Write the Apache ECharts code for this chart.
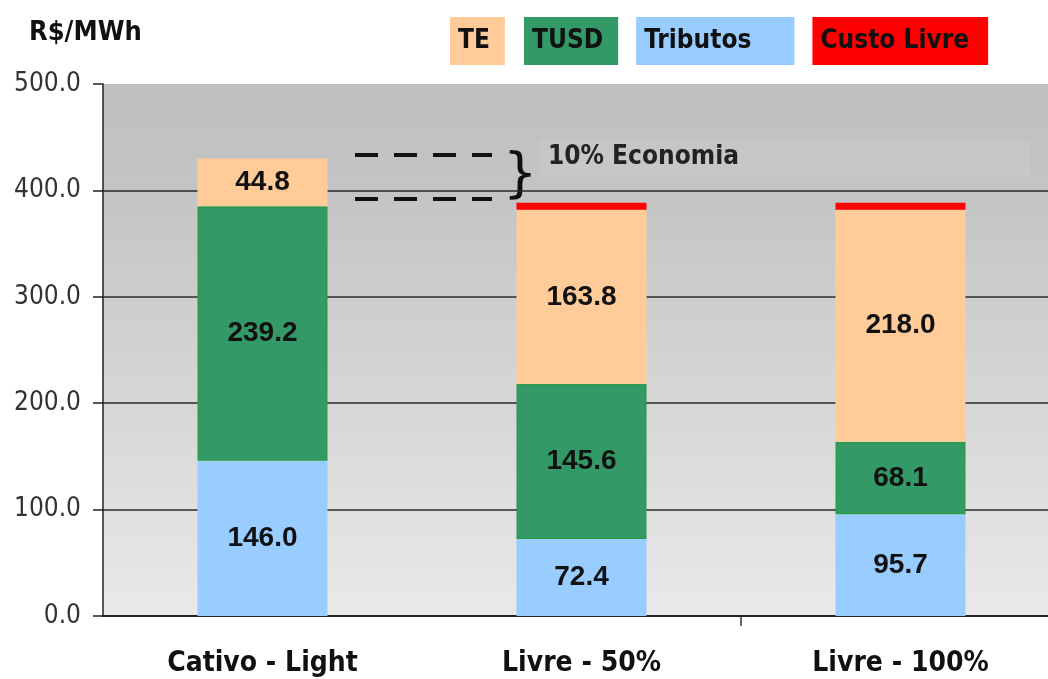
<!DOCTYPE html>
<html>
<head>
<meta charset="utf-8">
<style>
  html, body { margin: 0; padding: 0; background: #fff; }
  #chart { width: 1048px; height: 679px; }
</style>
<script src="https://cdn.jsdelivr.net/npm/echarts@6/dist/echarts.min.js"></script>
</head>
<body>
<div id="chart"></div>
<script>
// categorias e valores (R$/MWh)
const categories = ["Cativo - Light", "Livre - 50%", "Livre - 100%"];
const tributos = [146.0, 72.4, 95.7];
const tusd = [239.2, 145.6, 68.1];
const te = [44.8, 163.8, 218.0];
const custoLivre = [0, 6.5, 6.5];

const yTicks = [0, 100, 200, 300, 400, 500];

const narrow = "'DejaVu Sans Condensed', 'Liberation Sans Narrow', sans-serif";

const chart = echarts.init(document.getElementById("chart"));

const label = {
  show: true,
  position: "inside",
  color: "#111",
  fontFamily: "'Liberation Sans', Arial, sans-serif",
  fontWeight: "bold",
  fontSize: 28,
  formatter: (p) => p.value.toFixed(1)
};

function legendItem(name, bg, padRight) {
  return {
    name: name,
    textStyle: {
      backgroundColor: bg,
      padding: [11, padRight, 11, 8],
      color: "#111",
      fontFamily: narrow,
      fontWeight: "bold",
      fontSize: 26
    }
  };
}

const option = {
  backgroundColor: "#fff",
  animation: false,
  title: {
    text: "R$/MWh",
    left: 24,
    top: 14,
    textStyle: { fontFamily: narrow, fontWeight: "bold", fontSize: 27, color: "#111" }
  },
  legend: {
    left: 440,
    top: 12,
    itemWidth: 0,
    itemHeight: 0,
    itemGap: 13,
    icon: "rect",
    selectedMode: false,
    data: [
      legendItem("TE", "#ffcc99", 15),
      legendItem("TUSD", "#339966", 15),
      legendItem("Tributos", "#99ccff", 43),
      legendItem("Custo Livre", "#ff0000", 19)
    ]
  },
  grid: { left: 103, width: 957, top: 84, bottom: 63, outerBoundsMode: "none" },
  xAxis: {
    type: "category",
    data: categories,
    axisLine: { lineStyle: { color: "#222", width: 2 } },
    axisTick: { show: false },
    axisLabel: {
      margin: 34,
      color: "#111",
      fontFamily: narrow,
      fontWeight: "bold",
      fontSize: 28
    }
  },
  yAxis: {
    type: "value",
    min: 0,
    max: 500,
    interval: 100,
    axisLine: { show: true, lineStyle: { color: "#222", width: 1.5 } },
    axisTick: { show: true, length: 10, lineStyle: { color: "#222", width: 1.5 } },
    axisLabel: {
      margin: 22,
      color: "#333",
      fontFamily: narrow,
      fontSize: 26,
      formatter: (v) => v.toFixed(1)
    },
    splitLine: {
      lineStyle: {
        color: yTicks.map((v) => (v === 500 ? "rgba(0,0,0,0)" : "#2a2a2a")),
        width: 1.5
      }
    },
    splitArea: { show: false }
  },
  series: [
    {
      name: "Tributos", type: "bar", stack: "total", barWidth: 130,
      itemStyle: { color: "#99ccff" }, label: label, data: tributos
    },
    {
      name: "TUSD", type: "bar", stack: "total", barWidth: 130,
      itemStyle: { color: "#339966", borderColor: "#2c9c48", borderWidth: 1.5 },
      label: label, data: tusd
    },
    {
      name: "TE", type: "bar", stack: "total", barWidth: 130,
      itemStyle: { color: "#ffcc99" }, label: label, data: te
    },
    {
      name: "Custo Livre", type: "bar", stack: "total", barWidth: 130,
      itemStyle: { color: "#ff0000" }, data: custoLivre
    }
  ],
  graphic: [
    {
      // fundo em degradê da área de plotagem
      type: "rect", z: -10, silent: true,
      shape: { x: 103, y: 84, width: 945, height: 532 },
      style: {
        fill: new echarts.graphic.LinearGradient(0, 0, 0, 1, [
          { offset: 0, color: "#bfbfbf" },
          { offset: 0.2, color: "#c4c4c4" },
          { offset: 1, color: "#e9e9e9" }
        ])
      }
    },
    {
      type: "rect", z: -9, silent: true,
      shape: { x: 540, y: 140, width: 490, height: 37 },
      style: { fill: "rgba(255,255,255,0.07)" }
    },
    {
      type: "line", silent: true,
      shape: { x1: 355, y1: 155, x2: 492, y2: 155 },
      style: { stroke: "#111", lineWidth: 4, lineDash: [23, 16] }
    },
    {
      type: "line", silent: true,
      shape: { x1: 355, y1: 199, x2: 492, y2: 199 },
      style: { stroke: "#111", lineWidth: 4, lineDash: [23, 16] }
    },
    {
      type: "text", silent: true, left: 503, top: 150,
      style: { text: "}", fontSize: 54, fontFamily: "'DejaVu Sans', sans-serif", fill: "#111" }
    },
    {
      type: "text", silent: true, left: 548, top: 144,
      style: { text: "10% Economia", fontSize: 26, fontWeight: "bold", fontFamily: narrow, fill: "#222" }
    }
  ]
};

chart.setOption(option);

// marca de divisão no eixo x entre a 2ª e a 3ª categoria
const xa = chart.convertToPixel({ xAxisIndex: 0 }, 1);
const xb = chart.convertToPixel({ xAxisIndex: 0 }, 2);
const y0 = chart.convertToPixel({ yAxisIndex: 0 }, 0);
const tickX = Math.round((xa + xb) / 2);
option.graphic.push({
  type: "line", silent: true,
  shape: { x1: tickX, y1: y0, x2: tickX, y2: y0 + 10 },
  style: { stroke: "#333", lineWidth: 1.5 }
});
chart.setOption({ graphic: option.graphic });
</script>
</body>
</html>
